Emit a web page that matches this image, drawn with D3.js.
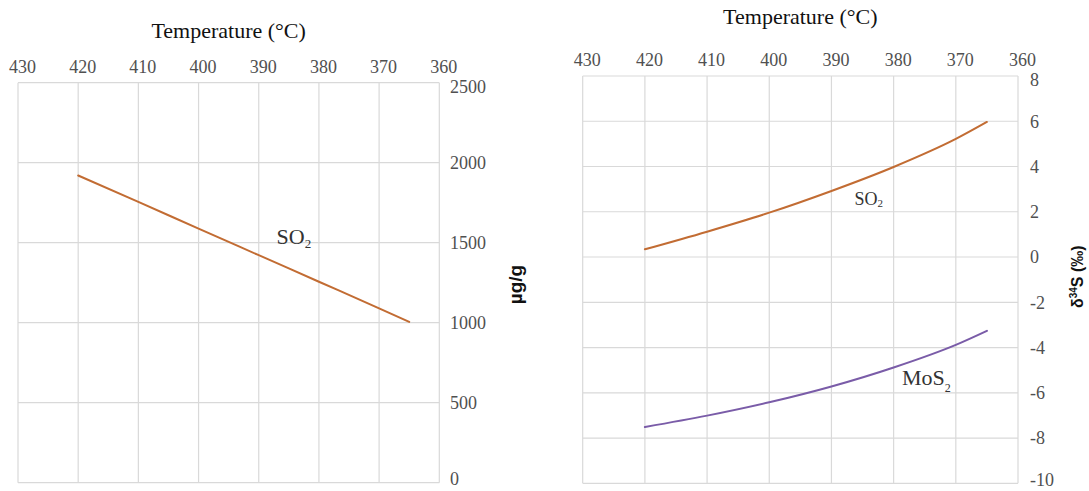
<!DOCTYPE html>
<html>
<head>
<meta charset="utf-8">
<script src="https://cdn.jsdelivr.net/npm/d3@7"></script>
<style>
  html, body { margin: 0; padding: 0; background: #fff; }
  svg { display: block; }
</style>
</head>
<body>
<svg id="chart" width="1089" height="491"></svg>
<script>
// Temperature points along the cooling path (°C)
const temps = [420, 410, 400, 390, 380, 370, 365];
// SO2 content of the fluid (µg/g)
const so2Content = [1920, 1755, 1588, 1422, 1256, 1090, 1005];
// δ34S of SO2 and MoS2 (‰)
const so2Delta = [0.34, 1.12, 1.96, 2.92, 3.98, 5.22, 5.97];
const mos2Delta = [-7.51, -7.01, -6.42, -5.72, -4.88, -3.88, -3.26];
// Tick labels
const tempTicks = [430, 420, 410, 400, 390, 380, 370, 360];
const contentTicks = [0, 500, 1000, 1500, 2000, 2500];
const deltaTicks = [-10, -8, -6, -4, -2, 0, 2, 4, 6, 8];

const SERIF = "'Liberation Serif', 'Times New Roman', serif";
const SANS = "'Liberation Sans', Arial, sans-serif";
const GRID = "#d9d9d9";
const TICK_COLOR = "#505050";
const SO2_COLOR = "#c26c33";
const MOS2_COLOR = "#7a5ca8";

const svg = d3.select("#chart");

function drawPanel(g, x, y, yTicks, opts) {
  const [x0, x1] = x.range();
  const [yb, yt] = y.range();

  // grid
  g.append("g").selectAll("line").data(tempTicks).join("line")
    .attr("x1", d => x(d)).attr("x2", d => x(d))
    .attr("y1", yt).attr("y2", yb)
    .attr("stroke", GRID).attr("stroke-width", 1.2);
  g.append("g").selectAll("line").data(yTicks).join("line")
    .attr("x1", x0).attr("x2", x1)
    .attr("y1", d => y(d)).attr("y2", d => y(d))
    .attr("stroke", GRID).attr("stroke-width", 1.2);

  // top temperature axis
  g.append("g")
    .attr("transform", `translate(0,${opts.topLabelY})`)
    .call(d3.axisTop(x).tickValues(tempTicks).tickSize(0).tickPadding(0))
    .call(a => a.select(".domain").remove())
    .call(a => a.selectAll("text")
      .attr("dx", 4)
      .attr("font-family", SERIF).attr("font-size", 18)
      .attr("fill", TICK_COLOR));

  // right value axis
  const yMax = d3.max(yTicks);
  const yMin = d3.min(yTicks);
  g.append("g")
    .attr("transform", `translate(${opts.rightLabelX},0)`)
    .call(d3.axisRight(y).tickValues(yTicks).tickSize(0).tickPadding(0)
      .tickFormat(d => d < 0 ? "-" + Math.abs(d) : String(d)))
    .call(a => a.select(".domain").remove())
    .call(a => a.selectAll("text")
      .attr("x", 0)
      .attr("dy", d => d === yMax ? "0.55em" : d === yMin ? "0.12em" : "0.33em")
      .attr("font-family", SERIF).attr("font-size", 18)
      .attr("text-anchor", "start")
      .attr("fill", TICK_COLOR));

  // axis title
  g.append("text")
    .attr("x", (x0 + x1) / 2).attr("y", opts.titleY)
    .attr("text-anchor", "middle")
    .attr("font-family", SERIF).attr("font-size", 22)
    .attr("fill", "#111")
    .text("Temperature (°C)");
}

function seriesLine(g, x, y, values, color) {
  const pts = temps.map((t, i) => ({ t, v: values[i] }));
  g.append("path")
    .datum(pts)
    .attr("fill", "none")
    .attr("stroke", color)
    .attr("stroke-width", 2)
    .attr("stroke-linecap", "round")
    .attr("d", d3.line().x(d => x(d.t)).y(d => y(d.v)).curve(d3.curveMonotoneX));
}

function chemLabel(g, px, py, base, sub, size, subSize, subDy) {
  const t = g.append("text")
    .attr("x", px).attr("y", py)
    .attr("font-family", SERIF).attr("font-size", size)
    .attr("fill", "#333");
  t.append("tspan").text(base);
  t.append("tspan").attr("font-size", subSize).attr("dy", subDy).text(sub);
}

// ---- Left panel: SO2 content ----
svg.append("clipPath").attr("id", "leftClip")
  .append("rect").attr("x", 0).attr("y", 0).attr("width", 527).attr("height", 491);
const left = svg.append("g").attr("clip-path", "url(#leftClip)");
const xL = d3.scaleLinear().domain([430, 360]).range([18, 439.3]);
const yL = d3.scaleLinear().domain([0, 2500]).range([482.7, 82.7]);
drawPanel(left, xL, yL, contentTicks, { topLabelY: 73, rightLabelX: 450, titleY: 38 });
seriesLine(left, xL, yL, so2Content, SO2_COLOR);
chemLabel(left, 276.5, 244, "SO", "2", 22, 13, 4);
left.append("text")
  .attr("transform", "translate(522,284.5) rotate(-90)")
  .attr("text-anchor", "middle")
  .attr("font-family", SANS).attr("font-weight", "bold").attr("font-size", 19)
  .attr("fill", "#111")
  .text("µg/g");

// ---- Right panel: δ34S ----
const right = svg.append("g");
const xR = d3.scaleLinear().domain([430, 360]).range([582.7, 1018]);
const yR = d3.scaleLinear().domain([-10, 8]).range([483.3, 76]);
drawPanel(right, xR, yR, deltaTicks, { topLabelY: 66, rightLabelX: 1030, titleY: 24 });
seriesLine(right, xR, yR, so2Delta, SO2_COLOR);
seriesLine(right, xR, yR, mos2Delta, MOS2_COLOR);
chemLabel(right, 854.5, 204.5, "SO", "2", 18, 11, 2);
chemLabel(right, 902, 384.5, "MoS", "2", 22, 12, 7);

const yTitle = right.append("text")
  .attr("transform", "translate(1083,276.7) rotate(-90)")
  .attr("text-anchor", "middle")
  .attr("font-family", SANS).attr("font-weight", "bold").attr("font-size", 16)
  .attr("fill", "#111");
yTitle.append("tspan").text("δ");
yTitle.append("tspan").attr("font-size", 10).attr("dy", -6).text("34");
yTitle.append("tspan").attr("dy", 6).text("S (‰)");
</script>
</body>
</html>
